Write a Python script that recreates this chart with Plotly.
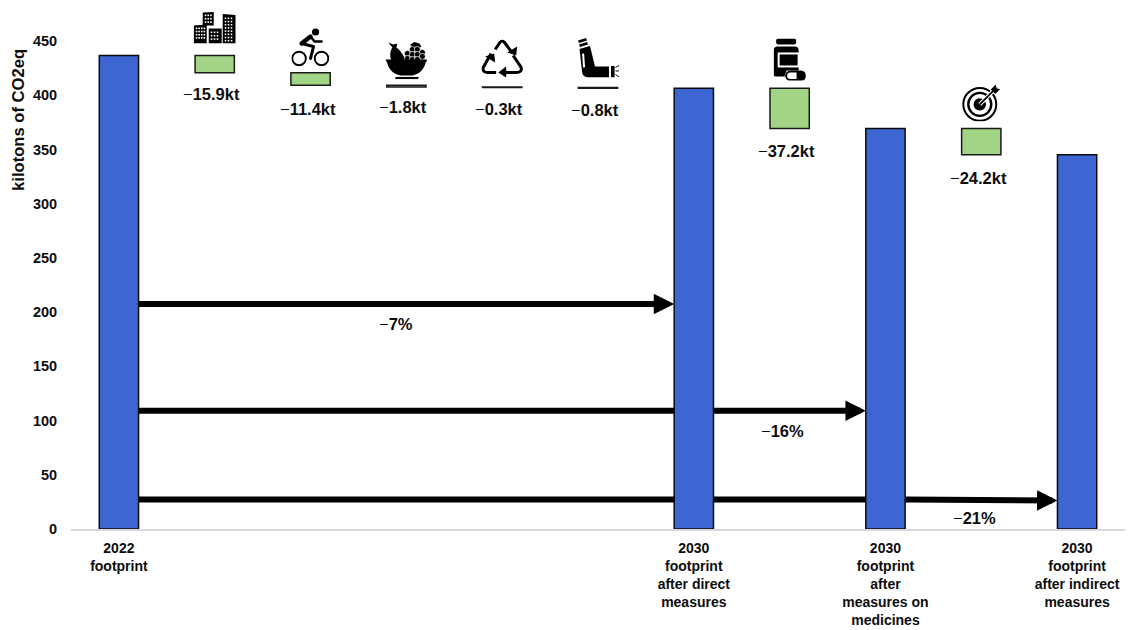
import base64
import plotly.graph_objects as go

# Emissions pathway, kilotons of CO2eq
positions = list(range(11))
total_positions = [0, 6, 8, 10]
total_labels = [
    "2022<br>footprint",
    "2030<br>footprint<br>after direct<br>measures",
    "2030<br>footprint<br>after<br>measures on<br>medicines",
    "2030<br>footprint<br>after indirect<br>measures",
]
start_value = 436.6
reduction_positions = [1, 2, 3, 4, 5, 7, 9]
reductions = [15.9, 11.4, 1.8, 0.3, 0.8, 37.2, 24.2]
reduction_labels = ["15.9kt", "11.4kt", "1.8kt", "0.3kt", "0.8kt", "37.2kt", "24.2kt"]
label_gap_px = [-21, -24, -20, -22, -22, -22, -23]
percent_labels = ["−7%", "−16%", "−21%"]
percent_x = [2.89, 6.93, 8.93]
percent_y = [189, 90.5, 9.7]
arrow_levels = [207.5, 109, 27.2]
arrow_tip_levels = [207.5, 109, 26.2]
arrow_tips = [6, 8, 10]
arrow_tails = [0, 6, 8]

BLUE = "#3E66D2"
GREEN = "#A2D486"
INK = "#0d0d0d"
BAR_WIDTH = 0.41
FONT = "Liberation Sans"

# Running level after each reduction gives the floating block bases and the totals
bases = []
level = start_value
totals = [start_value]
for pos, amount in zip(reduction_positions, reductions):
    level -= amount
    bases.append(level)
    if pos in (5, 7, 9):
        totals.append(level)


def svg_uri(width, height, body):
    svg = (
        f'<svg xmlns="http://www.w3.org/2000/svg" width="{width}" height="{height}" '
        f'viewBox="0 0 {width} {height}">{body}</svg>'
    )
    return "data:image/svg+xml;base64," + base64.b64encode(svg.encode()).decode()


def window_grid(x, y, cols, rows, step_x=2.6, step_y=2.8, size=1.6):
    return "".join(
        f'<rect x="{x + c * step_x}" y="{y + r * step_y}" width="{size}" height="{size}" fill="#fff"/>'
        for c in range(cols)
        for r in range(rows)
    )


city = (
    '<path d="M9 1 L20 0.5 V14 H9 Z" fill="#000"/>'
    + window_grid(11, 3, 3, 3, 2.7, 3.4)
    + '<path d="M0 14 L13 13 V32 H0 Z" fill="#000"/>'
    + window_grid(2, 16, 4, 4, 2.6, 3.2)
    + '<rect x="15" y="17" width="13" height="15" fill="#000"/>'
    + window_grid(17, 20, 3, 3, 3, 3.4)
    + '<path d="M29 2.5 L42 3.5 V32 H29 Z" fill="#000"/>'
    + window_grid(31, 6, 3, 8, 3, 3.2)
)

bike = (
    '<circle cx="24" cy="4.5" r="3.6" fill="#000"/>'
    '<circle cx="7.5" cy="31" r="6.8" fill="none" stroke="#000" stroke-width="1.9"/>'
    '<circle cx="30" cy="31" r="6.8" fill="none" stroke="#000" stroke-width="1.9"/>'
    '<path d="M10 16 L19 9" fill="none" stroke="#000" stroke-width="4.4" stroke-linecap="round"/>'
    '<path d="M19 9 L23 14 L30 14" fill="none" stroke="#000" stroke-width="2.6" '
    'stroke-linecap="round" stroke-linejoin="round"/>'
    '<path d="M10 16 L22 19 L19 31" fill="none" stroke="#000" stroke-width="3" '
    'stroke-linecap="round" stroke-linejoin="round"/>'
)

fruit = (
    '<path d="M3 1 L8 3 L12 2 L11 6 C14 8 17 12 19 16 L21 19 H6 C4 14 5 9 7 6 Z" fill="#000"/>'
    '<path d="M25 3 L29 0.5 L34 2 L36 5 L33 7 H27 Z" fill="#000"/>'
    + "".join(
        f'<circle cx="{x}" cy="{y}" r="3" fill="#000" stroke="#fff" stroke-width="0.7"/>'
        for x, y in [(27, 8), (32, 8), (37, 11), (22, 12), (27, 13), (32, 13),
                     (37, 15), (22, 17), (27, 18), (32, 18)]
    )
    + '<path d="M0.5 18 H41.5 V20 H40.5 C39.5 27 34 33 27 34 H15 C8 33 2.5 27 1.5 20 H0.5 Z" fill="#000"/>'
    '<rect x="10" y="35.5" width="23" height="2.2" fill="#000"/>'
)

recycle = (
    '<g fill="none" stroke="#000" stroke-width="3" stroke-linejoin="round">'
    '<path d="M14 10 L19 2.5 Q21 0.5 23 2.5 L30 12"/>'
    '<path d="M10 14 L2 28 Q1 33 6 33 H15"/>'
    '<path d="M32 16 L40 28 Q41 33 36 33 H24"/></g>'
    '<path d="M26 13 L35 16 L36 7 Z" fill="#000"/>'
    '<path d="M4 17 L13 14 L14 23 Z" fill="#000"/>'
    '<path d="M25 27 V38 L17 33 Z" fill="#000"/>'
)

inhaler = (
    '<path d="M1 3 L9 0.5 L10 3 L2 5.5 Z M2 7 L10 4.5 L11 7 L3 9.5 Z" fill="#000"/>'
    '<path d="M2.5 11.5 L13 8.5 L18 29 H32 V40 H11 Q5 39 5 34 Z" fill="#000"/>'
    '<rect x="5.5" y="16" width="2" height="14" fill="#fff" transform="rotate(-4 6 22)"/>'
    '<rect x="34" y="28.5" width="3.6" height="11.5" fill="#000"/>'
    '<path d="M38.5 30 L42 28 M38.5 33.5 H42 M38.5 37 L42 39.5" stroke="#000" stroke-width="1"/>'
)

pill = (
    '<rect x="2.5" y="0" width="20" height="6" rx="2" fill="#000"/>'
    '<path d="M0 12 Q0 8 4 8 H21 Q25 8 25 12 V32 H13 Q11 36 11 38 H2 Q0 38 0 36 Z" fill="#000"/>'
    '<rect x="5" y="15" width="20" height="13" fill="#000" stroke="#fff" stroke-width="2"/>'
    '<rect x="12.5" y="33" width="19" height="8.5" rx="4.2" fill="#fff" stroke="#000" stroke-width="2"/>'
    '<path d="M23 33 H27.5 A4.2 4.2 0 0 1 27.5 41.5 H23 Z" fill="#000"/>'
)

target = (
    '<g fill="none" stroke="#000"><circle cx="18" cy="20" r="16.5" stroke-width="2"/>'
    '<circle cx="18" cy="20" r="11.5" stroke-width="2.4"/></g>'
    '<circle cx="18" cy="20" r="6.2" fill="#000"/>'
    '<path d="M18 20 L33 5" stroke="#fff" stroke-width="4"/>'
    '<path d="M18 20 L33 5" stroke="#000" stroke-width="1.8"/>'
    '<path d="M29 5 L34 0 L35 4 L38.5 4.5 L33.5 9.5 Z" fill="#000"/>'
)

# Icon artwork with its centre position on the x axis and its top edge and size in pixels
icons = [
    (city, 42, 32, 1, 11),
    (bike, 38, 39, 2, 27),
    (fruit, 42, 38, 3, 41),
    (recycle, 42, 38, 4, 39),
    (inhaler, 42, 40, 5, 37),
    (pill, 32, 42, 7, 38),
    (target, 39, 37, 9, 84),
]

PAGE_W, PAGE_H = 1129, 630
M_L, M_R, M_T, M_B = 70.5, 3.5, 40.5, 100.5
plot_w = PAGE_W - M_L - M_R
plot_h = PAGE_H - M_T - M_B

images = []
for art, w, h, pos, top in icons:
    images.append(dict(
        source=svg_uri(w, h, art),
        xref="paper", yref="paper",
        x=(pos + 0.5) / 11, y=1 - (top - M_T) / plot_h,
        sizex=w / plot_w, sizey=h / plot_h,
        xanchor="center", yanchor="top",
        sizing="stretch", layer="above",
    ))

fig = go.Figure()
fig.add_bar(
    x=total_positions, y=totals, width=BAR_WIDTH,
    marker=dict(color=BLUE, line=dict(color="#0a0a0a", width=1.5)),
)
fig.add_bar(
    x=reduction_positions, y=reductions, base=bases, width=BAR_WIDTH,
    marker=dict(color=GREEN, line=dict(color="#1a1a1a", width=1.5)),
)

annotations = []
for pos, base, text, gap in zip(reduction_positions, bases, reduction_labels, label_gap_px):
    annotations.append(dict(
        x=pos, y=base, yshift=gap, xshift=-3, text=f"−<b>{text}</b>", showarrow=False,
        font=dict(family=FONT, size=16.5, color=INK), xanchor="center", yanchor="middle",
    ))
for x, y, text in zip(percent_x, percent_y, percent_labels):
    annotations.append(dict(
        x=x, y=y, text=f"−<b>{text[1:]}</b>", showarrow=False,
        font=dict(family=FONT, size=16.5, color=INK), xanchor="center", yanchor="middle",
    ))

# Each arrow runs from the first bar; only its final stretch sits in front of the bars
shapes = []
half = BAR_WIDTH / 2
for level_y, tip_y, tip, tail in zip(arrow_levels, arrow_tip_levels, arrow_tips, arrow_tails):
    shapes.append(dict(
        type="line", layer="below", xref="x", yref="y",
        x0=0, x1=max(tail, half + 0.05), y0=level_y, y1=level_y,
        line=dict(color="#000", width=6),
    ))
    annotations.append(dict(
        x=tip - half, y=tip_y, ax=tail + half - 0.012, ay=level_y,
        xref="x", yref="y", axref="x", ayref="y", text="", showarrow=True,
        arrowhead=2, arrowsize=0.68, arrowwidth=6, arrowcolor="#000", standoff=0,
    ))

annotations.append(dict(
    xref="paper", yref="y", x=-0.0505, y=377, text="<b>kilotons of CO2eq</b>", textangle=-90,
    showarrow=False, font=dict(family=FONT, size=16.6, color=INK),
    xanchor="center", yanchor="middle",
))

fig.update_layout(
    width=PAGE_W, height=PAGE_H,
    margin=dict(l=M_L, r=M_R, t=M_T, b=M_B, pad=0),
    paper_bgcolor="#fff", plot_bgcolor="#fff",
    barmode="overlay", showlegend=False,
    annotations=annotations, shapes=shapes, images=images,
)
fig.update_xaxes(
    range=[-0.5, 10.5], tickvals=total_positions, ticktext=total_labels, tickangle=0,
    showgrid=False, zeroline=False, showline=True, linecolor="#d9d9d9", linewidth=1.5,
    ticks="outside", ticklen=5, tickcolor="#fff", automargin=False,
    tickfont=dict(family=FONT, size=14, color=INK, weight=700),
)
fig.update_yaxes(
    range=[0, 450], tickvals=list(range(0, 451, 50)),
    showgrid=False, zeroline=False, showline=False,
    ticks="outside", ticklen=10, tickcolor="#fff", automargin=False,
    tickfont=dict(family=FONT, size=14.5, color=INK, weight=700),
)

fig.write_html("out.html")
